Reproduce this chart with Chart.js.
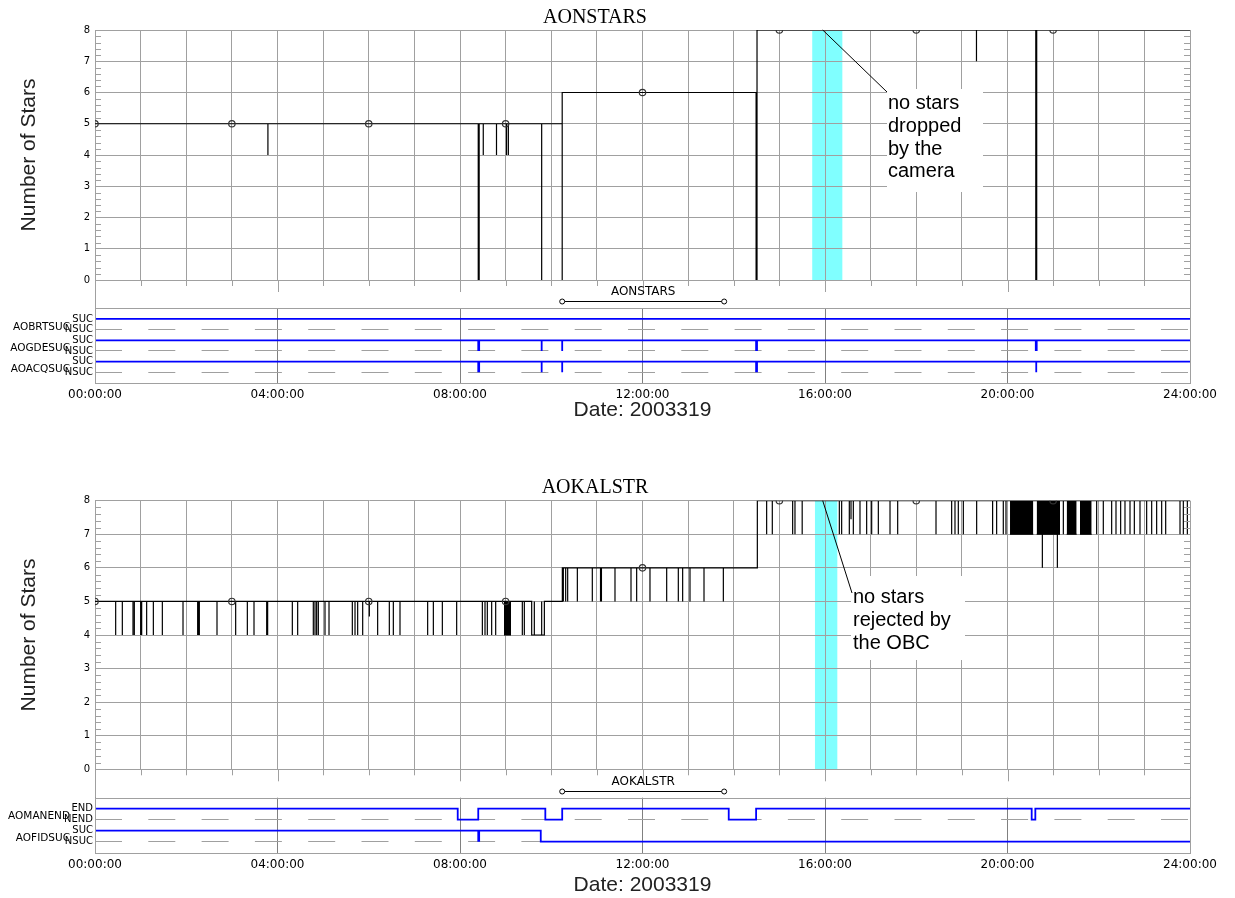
<!DOCTYPE html>
<html><head><meta charset="utf-8">
<script src="https://cdn.jsdelivr.net/npm/chart.js@4/dist/chart.umd.min.js"></script>
<style>
html,body{margin:0;padding:0;background:#fff;width:1235px;height:898px;overflow:hidden;position:relative}
canvas{position:absolute;left:0}
</style></head><body>
<canvas id="c1" width="1235" height="309" style="top:0px"></canvas>
<canvas id="c2" width="1235" height="140" style="top:283px"></canvas>
<canvas id="c3" width="1235" height="328" style="top:470px"></canvas>
<canvas id="c4" width="1235" height="126" style="top:772px"></canvas>
<script>
// ---------- data ----------
const xTickValues = [0, 4, 8, 12, 16, 20, 24];
const xTickLabels = ['00:00:00','04:00:00','08:00:00','12:00:00','16:00:00','20:00:00','24:00:00'];
const dateLabel = 'Date: 2003319';

// AONSTARS (hours, value after change)
const aonstarsTime  = [0, 3.79,3.79, 8.40,8.40, 8.42,8.42, 8.51,8.51, 8.80,8.80, 9.02,9.02, 9.06,9.06, 9.79,9.79, 10.24,10.24, 14.49,14.49, 14.51,14.51, 19.32,19.32, 20.62,20.62, 20.64,20.64, 24];
const aonstarsValue = [5, 4,5, 0,5, 0,5, 4,5, 4,5, 4,5, 4,5, 0,5, 0,6, 0,6, 0,8, 7,8, 0,8, 0,8, 8];
const sampleTime     = [0, 3, 6, 9, 12, 15, 18, 21];
const aonstarsSample = [5, 5, 5, 5, 6, 8, 8, 8];
const aokalstrSample = [5, 5, 5, 5, 6, 8, 8, 8];
const aonstarsBand = [15.72, 16.38];
const aokalstrBand = [15.78, 16.27];

// AOKALSTR base levels
const kalLevelTime  = [0, 9.571, 9.849, 10.243, 14.517];
const kalLevelValue = [5, 4, 5, 6, 8];
// AOKALSTR short spikes (time, value reached)
const kalSpikeTime = [0.453,0.599,0.833,0.862,1.001,1.023,1.132,1.279,1.476,1.929,2.250,2.272,2.287,2.674,3.083,3.339,3.485,3.763,3.784,4.325,4.442,4.785,4.822,4.858,4.895,5.041,5.129,5.640,5.699,5.757,5.867,6.013,6.195,6.451,6.539,6.685,7.291,7.416,7.613,7.927,8.490,8.548,8.599,8.694,8.782,9.366,9.410,9.629,9.790,
  10.265,10.316,10.360,10.572,10.900,11.080,11.100,11.397,11.748,11.872,12.164,12.530,12.785,12.880,13.041,13.348,13.772,
  14.721,14.845,15.291,15.342,15.500,16.314,16.365,16.533,16.570,16.621,16.767,16.913,17.023,17.169,17.425,17.593,18.433,18.776,18.849,18.922,19.032,19.324,19.674,19.762,19.908,19.967,20.764,21.093,21.224,21.954,22.100,22.283,22.378,22.480,22.575,22.685,22.780,22.904,23.050,23.160,23.269,23.379,23.467,23.781,23.854,23.942];
const kalSpikeValue = [4,4,4,4,4,4,4,4,4,4,4,4,4,4,4,4,4,4,4,4,4,4,4,4,4,4,4,4,4,4,4,4.55,4,4,4,4,4,4,4,4,4,4,4,4,4,4,4,5,5,
  5,5,5,5,5,5,5,5,5,5,5,5,5,5,5,5,5,
  7,7,7,7,7,7,7,7,7.45,7,7,7,7,7,7,7,7,7,7,7,7,7,7,7,7,7,6,6,7,7,7,7,7,7,7,7,7,7,7,7,7,7,7,7,7,7];
// AOKALSTR dense toggling blocks
const kalBlockStart = [8.964, 20.055, 20.639, 21.297, 21.589];
const kalBlockEnd   = [9.118, 20.566, 21.151, 21.516, 21.845];
const kalBlockLow   = [4, 7, 7, 7, 7];

// discrete status signals (1 = SUC/END, 0 = NSUC/NEND)
const aobrtsucTime  = [0, 24];
const aobrtsucState = [1, 1];
const aogdesucTime  = [0, 8.40,8.40, 8.42,8.42, 9.79,9.79, 10.24,10.24, 14.49,14.49, 14.51,14.51, 20.62,20.62, 20.64,20.64, 24];
const aogdesucState = [1, 0,1, 0,1, 0,1, 0,1, 0,1, 0,1, 0,1, 0,1, 1];
const aoacqsucTime  = [0, 8.40,8.40, 8.42,8.42, 9.79,9.79, 10.24,10.24, 14.49,14.49, 14.51,14.51, 20.63,20.63, 24];
const aoacqsucState = [1, 0,1, 0,1, 0,1, 0,1, 0,1, 0,1, 0,1, 1];
const aomanendTime  = [0, 7.95, 8.40, 9.87, 10.24, 13.89, 14.49, 20.53, 20.61, 24];
const aomanendState = [1, 0, 1, 0, 1, 0, 1, 0, 1, 1];
const aofidsucTime  = [0, 8.40,8.40, 8.42,8.42, 9.77, 24];
const aofidsucState = [1, 0,1, 0,1, 0, 0];

const topRowLabels = ['NSUC','SUC','NSUC','SUC','NSUC','SUC'];
const topNames = ['AOBRTSUC','AOGDESUC','AOACQSUC'];
const botRowLabels = ['NSUC','SUC','NEND','END'];
const botNames = ['AOMANEND','AOFIDSUC'];
const rangeTop = [10.24, 13.79];
const rangeBot = [10.24, 13.79];

// ---------- helpers ----------
const GRID = '#a0a0a0';
const pts = (t, v, f) => t.map((x, i) => ({x, y: f ? f(v[i]) : v[i]}));
function kalBase(t) { let v = kalLevelValue[0]; kalLevelTime.forEach((s, i) => { if (s <= t) v = kalLevelValue[i]; }); return v; }
function kalPoints() {
  const ev = [];
  kalLevelTime.forEach((t, i) => ev.push({t, p: [{x: t, y: kalLevelValue[i]}]}));
  kalSpikeTime.forEach((t, i) => ev.push({t, p: [{x: t, y: kalSpikeValue[i]}, {x: t, y: kalBase(t)}]}));
  ev.sort((a, b) => a.t - b.t);
  const out = [];
  ev.forEach(e => out.push(...e.p));
  out.push({x: 24, y: kalBase(24)});
  return out;
}
const lineDs = (data) => ({data, stepped: true, borderColor: '#000', borderWidth: 1.2, pointRadius: 0, fill: false, order: 2});
const markerDs = (v) => ({data: pts(sampleTime, v), showLine: false, pointRadius: 3.2, pointStyle: 'circle',
  pointBorderColor: '#333', pointBackgroundColor: 'rgba(0,0,0,0)', pointBorderWidth: 1.2, clip: 0, order: 1});
const blueDs = (t, s, hi) => ({data: pts(t, s, v => v ? hi : hi - 1), stepped: true, borderColor: '#0000ff', borderWidth: 1.8, pointRadius: 0, fill: false});

const decor = {
  id: 'decor',
  beforeDraw(chart, args, o) {
    if (!o || !o.band) return;
    const {ctx, chartArea: a, scales: {x}} = chart;
    const x0 = x.getPixelForValue(o.band[0]), x1 = x.getPixelForValue(o.band[1]);
    ctx.save(); ctx.fillStyle = '#80ffff'; ctx.fillRect(x0, a.top, x1 - x0, a.bottom - a.top); ctx.restore();
  },
  afterDraw(chart, args, o) {
    if (!o) return;
    const {ctx, chartArea: a, scales: {x, y}} = chart;
    ctx.save();
    ctx.lineWidth = 1; ctx.strokeStyle = GRID;
    if (o.main) {
      ctx.beginPath();
      for (let v = 0; v < 8; v++) for (let k = 1; k < 5; k++) {
        const py = Math.round(y.getPixelForValue(v + k / 5)) + 0.5;
        ctx.moveTo(a.left, py); ctx.lineTo(a.left + 6, py);
        ctx.moveTo(a.right - 6, py); ctx.lineTo(a.right, py);
      }
      for (let h = 0; h <= 24; h++) {
        const px = Math.round(x.getPixelForValue(h)) + 0.5;
        ctx.moveTo(px, a.bottom); ctx.lineTo(px, a.bottom + (h % 4 === 0 ? 12 : 6));
      }
      ctx.moveTo(Math.round(a.left) + 0.5, a.bottom); ctx.lineTo(Math.round(a.left) + 0.5, chart.height);
      ctx.moveTo(Math.round(a.right) + 0.5, a.bottom); ctx.lineTo(Math.round(a.right) + 0.5, chart.height);
      ctx.stroke();
    }
    if (o.note) {
      const n = o.note;
      ctx.fillStyle = '#fff'; ctx.fillRect(n.box[0], n.box[1], n.box[2], n.box[3]);
      ctx.strokeStyle = '#000'; ctx.lineWidth = 1;
      ctx.beginPath(); ctx.moveTo(x.getPixelForValue(n.anchor[0]), y.getPixelForValue(n.anchor[1])); ctx.lineTo(n.tip[0], n.tip[1]); ctx.stroke();
      ctx.fillStyle = '#000'; ctx.font = '20px "Liberation Sans", Arial, sans-serif'; ctx.textAlign = 'left'; ctx.textBaseline = 'middle';
      n.lines.forEach((s, i) => ctx.fillText(s, n.textX, n.firstY + i * n.gap));
    }
    if (o.sub) {
      const s = o.sub;
      ctx.strokeStyle = GRID;
      ctx.strokeRect(Math.round(a.left) + 0.5, Math.round(a.top) + 0.5, Math.round(a.right - a.left), Math.round(a.bottom - a.top));
      ctx.fillStyle = '#000'; ctx.font = '10.5px "DejaVu Sans", sans-serif'; ctx.textAlign = 'right'; ctx.textBaseline = 'middle';
      s.names.forEach((nm, i) => {
        const hi = s.rows[i];
        ctx.fillText(nm, 70, (y.getPixelForValue(hi) + y.getPixelForValue(hi - 1)) / 2 + 2.5);
      });
      const x0 = x.getPixelForValue(s.range[0]), x1 = x.getPixelForValue(s.range[1]);
      const ly = Math.round(a.top - 7) + 0.5;
      ctx.strokeStyle = '#000';
      ctx.beginPath(); ctx.moveTo(x0 + 2.5, ly); ctx.lineTo(x1 - 2.5, ly); ctx.stroke();
      ctx.beginPath(); ctx.arc(x0, ly, 2.5, 0, Math.PI * 2); ctx.stroke();
      ctx.beginPath(); ctx.arc(x1, ly, 2.5, 0, Math.PI * 2); ctx.stroke();
      ctx.font = '12px "DejaVu Sans", sans-serif'; ctx.textAlign = 'center';
      ctx.fillText(s.rangeText, (x0 + x1) / 2, a.top - 16);
    }
    ctx.restore();
  }
};

function mainChart(id, title, titlePad, datasets, xAxisH, opts) {
  return new Chart(document.getElementById(id), {
    type: 'line',
    data: {datasets},
    options: {
      responsive: false, animation: false, events: [],
      layout: {padding: {left: 0, right: 45, top: 0, bottom: 0}},
      plugins: {
        legend: {display: false}, tooltip: {enabled: false},
        title: {display: true, text: title, color: '#000', font: {family: '"Liberation Serif", serif', size: 20, weight: 'normal'}, padding: titlePad},
        decor: opts
      },
      scales: {
        x: {type: 'linear', min: 0, max: 24, ticks: {display: false, stepSize: 1},
            grid: {color: GRID, drawTicks: false}, border: {color: GRID},
            afterFit: s => { s.height = xAxisH; }},
        y: {min: 0, max: 8, ticks: {stepSize: 1, color: '#000', padding: 5, font: {family: '"DejaVu Sans", sans-serif', size: 10}},
            grid: {color: GRID, drawTicks: false}, border: {color: GRID},
            title: {display: true, text: 'Number of Stars', color: '#222', font: {family: '"Liberation Sans", Arial, sans-serif', size: 21}, padding: {top: 16.4, bottom: 0}},
            afterFit: s => { s.width = 95; }}
      }
    },
    plugins: [decor]
  });
}

function subChart(id, datasets, yMax, rowLabels, padTop, xAxisH, opts) {
  const rows = rowLabels.map((_, i) => i + 1);
  return new Chart(document.getElementById(id), {
    type: 'line',
    data: {datasets},
    options: {
      responsive: false, animation: false, events: [],
      layout: {padding: {left: 0, right: 45, top: padTop, bottom: 0}},
      plugins: {legend: {display: false}, tooltip: {enabled: false}, title: {display: false}, decor: opts},
      scales: {
        x: {type: 'linear', min: 0, max: 24,
            afterBuildTicks: s => { s.ticks = xTickValues.map(v => ({value: v})); },
            ticks: {autoSkip: false, maxRotation: 0, padding: 5, color: '#000', font: {family: '"DejaVu Sans", sans-serif', size: 12},
                    callback: (v, i) => xTickLabels[i]},
            grid: {color: '#808080', drawTicks: false}, border: {display: false},
            title: {display: true, text: dateLabel, color: '#222', font: {family: '"Liberation Sans", Arial, sans-serif', size: 21}, padding: {top: 0, bottom: 0.4}},
            afterFit: s => { s.height = xAxisH; }},
        y: {min: 0, max: yMax,
            afterBuildTicks: s => { s.ticks = rows.map(v => ({value: v})); },
            ticks: {autoSkip: false, padding: 2, color: '#000', font: {family: '"DejaVu Sans", sans-serif', size: 10},
                    callback: v => rowLabels[v - 1]},
            grid: {drawTicks: false, color: c => (c.tick && c.tick.value % 2 === 1) ? GRID : 'rgba(0,0,0,0)'},
            border: {display: false, dash: [27, 26.3]},
            afterFit: s => { s.width = 95; }}
      }
    },
    plugins: [decor]
  });
}

// ---------- charts ----------
mainChart('c1', 'AONSTARS', {top: 5.5, bottom: 0.5},
  [markerDs(aonstarsSample), lineDs(pts(aonstarsTime, aonstarsValue))], 29,
  {main: true, band: aonstarsBand,
   note: {anchor: [15.95, 8], tip: [887, 92], box: [887, 89, 96, 103], lines: ['no stars', 'dropped', 'by the', 'camera'], textX: 888, firstY: 103.5, gap: 22.8}});

subChart('c2', [
  blueDs(aobrtsucTime, aobrtsucState, 6),
  blueDs(aogdesucTime, aogdesucState, 4),
  blueDs(aoacqsucTime, aoacqsucState, 2)
], 7, topRowLabels, 25.3, 40,
  {sub: {names: topNames, rows: [6, 4, 2], range: rangeTop, rangeText: 'AONSTARS'}});

const blockSets = kalBlockStart.map((s, i) => ({
  data: [{x: s, y: kalBlockLow[i]}, {x: kalBlockEnd[i], y: kalBlockLow[i]}],
  borderColor: '#000', backgroundColor: '#000', borderWidth: 1, pointRadius: 0,
  fill: {value: kalBlockLow[i] + 1}, order: 3
}));
mainChart('c3', 'AOKALSTR', {top: 6, bottom: 0.7},
  [markerDs(aokalstrSample), lineDs(kalPoints()), ...blockSets], 28.7,
  {main: true, band: aokalstrBand,
   note: {anchor: [15.95, 8], tip: [852, 123], box: [851, 106, 114, 84], lines: ['no stars', 'rejected by', 'the OBC'], textX: 853, firstY: 127.5, gap: 23}});

subChart('c4', [
  blueDs(aomanendTime, aomanendState, 4),
  blueDs(aofidsucTime, aofidsucState, 2)
], 5, botRowLabels, 25.7, 45.3,
  {sub: {names: botNames, rows: [4, 2], range: rangeBot, rangeText: 'AOKALSTR'}});
</script>
</body></html>
